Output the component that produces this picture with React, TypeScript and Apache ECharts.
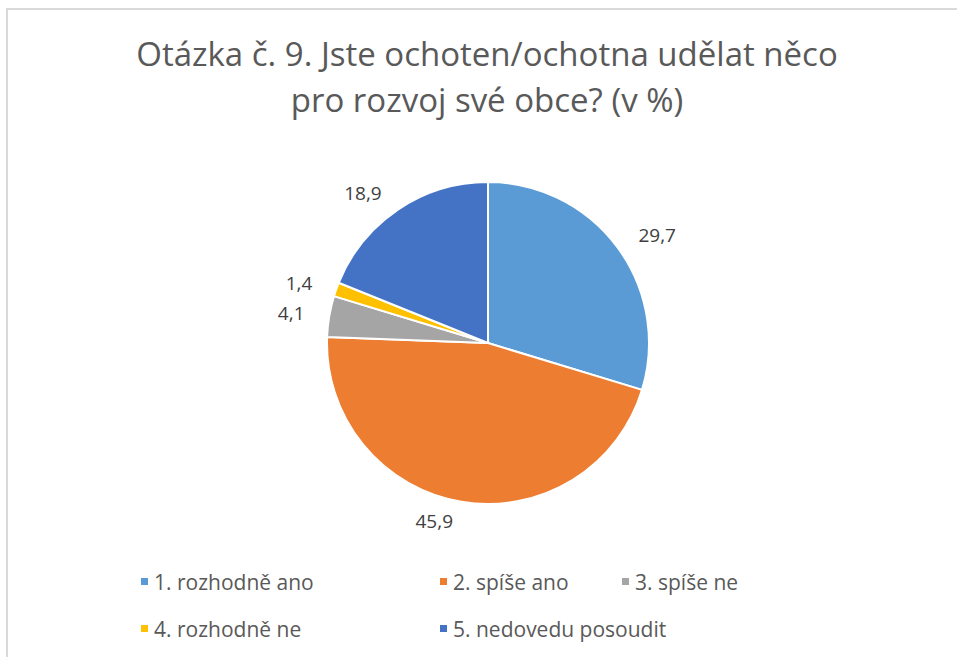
import React, { useEffect, useRef } from "react";
import * as echarts from "echarts";

const titleText = "Otázka č. 9. Jste ochoten/ochotna udělat něco\npro rozvoj své obce? (v %)";
const categories = ["1. rozhodně ano", "2. spíše ano", "3. spíše ne", "4. rozhodně ne", "5. nedovedu posoudit"];
const values = [29.7, 45.9, 4.1, 1.4, 18.9];
const colors = ["#5B9BD5", "#ED7D31", "#A5A5A5", "#FFC000", "#4472C4"];
const legendPos = [
  [139, 571],
  [438, 571],
  [620, 571],
  [139, 618],
  [438, 618],
];

const FONT = "'Open Sans', 'Noto Sans', sans-serif";

export default function App() {
  const ref = useRef<HTMLDivElement>(null);
  useEffect(() => {
    if (!ref.current) return;
    const chart = echarts.init(ref.current, undefined, { renderer: "svg" });
    chart.setOption({
      animation: false,
      backgroundColor: "#ffffff",
      title: {
        text: titleText,
        left: 482,
        top: 25,
        textAlign: "center",
        textStyle: {
          fontFamily: FONT,
          fontSize: 33,
          fontWeight: "normal",
          color: "#595959",
          lineHeight: 46,
        },
      },
      graphic: [
        {
          type: "rect",
          shape: { x: 7, y: 9, width: 1000, height: 1000 },
          style: { fill: "none", stroke: "#d9d9d9", lineWidth: 2 },
          silent: true,
        },
      ],
      legend: categories.map((c, i) => ({
        data: [c],
        left: legendPos[i][0],
        top: legendPos[i][1],
        padding: 0,
        orient: "horizontal",
        icon: "rect",
        itemWidth: 9,
        itemHeight: 9,
        itemGap: 8,
        textStyle: { fontFamily: FONT, fontSize: 21, color: "#595959" },
        selectedMode: false,
      })),
      series: [
        {
          type: "pie",
          center: [488, 343],
          radius: 161,
          startAngle: 90,
          clockwise: true,
          avoidLabelOverlap: false,
          itemStyle: { borderColor: "#ffffff", borderWidth: 2 },
          label: {
            show: true,
            position: "outside",
            formatter: (p: any) => String(p.value).replace(".", ","),
            fontFamily: FONT,
            fontSize: 19,
            color: "#404040",
          },
          labelLine: { show: false, length: 20, length2: 0 },
          emphasis: { disabled: true },
          data: categories.map((c, i) => ({
            name: c,
            value: values[i],
            itemStyle: { color: colors[i] },
          })),
        },
      ],
    });
    return () => chart.dispose();
  }, []);
  return (
    <div
      ref={ref}
      style={{ position: "fixed", left: 0, top: 0, width: 957, height: 657 }}
    />
  );
}
